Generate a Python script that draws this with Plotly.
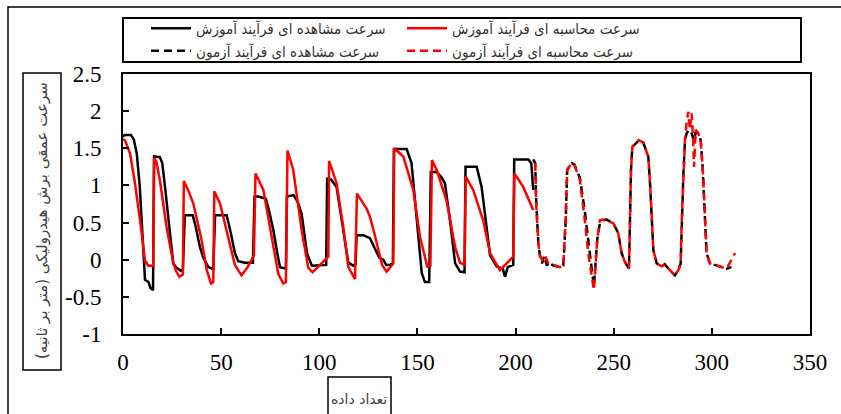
import plotly.graph_objects as go

# ---------------- data ----------------
obs_train_x = [0, 1, 4, 5.5, 7, 8.5, 10, 11.2, 13, 14, 15.3, 15.8, 18.8, 20, 21.4, 23.5, 25.6, 27, 29.5, 30.5,
               31.5, 35.5, 37, 39.2, 41, 43.5, 46, 46.9, 52.8, 55, 57, 58.7, 62, 66.2, 67, 69, 72.8, 74.5, 76.6,
               78.5, 80, 83, 83.5, 86.9, 89, 91, 93.7, 96.2, 100, 103.5, 104, 106, 108.8, 110.5, 112.2, 114.8,
               117.3, 118.5, 119, 122.4, 125.8, 127.5, 129.2, 130.5, 132.6, 134.1, 136, 137.5, 138, 144.5, 147,
               149.6, 152.2, 153.8, 156, 156.8, 159.8, 162, 164, 166.6, 169.2, 171.7, 174, 174.5, 180.2, 182.7,
               185.3, 187, 190.4, 193.5, 194.6, 196, 198.8, 199.3, 206.5, 208, 209]
obs_train_y = [1.66, 1.68, 1.68, 1.62, 1.43, 1.0, 0.3, -0.27, -0.3, -0.38, -0.41, 1.39, 1.38, 1.3, 0.98, 0.45,
               -0.05, -0.1, -0.15, -0.13, 0.6, 0.6, 0.45, 0.17, 0.02, -0.1, -0.13, 0.6, 0.6, 0.35, 0.09, -0.02,
               -0.04, -0.04, 0.85, 0.85, 0.82, 0.65, 0.4, 0.1, -0.1, -0.12, 0.85, 0.87, 0.78, 0.62, 0.09, -0.08,
               -0.07, -0.07, 1.09, 1.08, 0.98, 0.7, 0.4, -0.04, -0.08, -0.06, 0.33, 0.33, 0.29, 0.2, 0.09, 0.03,
               0.0, -0.07, -0.07, -0.05, 1.49, 1.49, 1.3, 0.53, -0.18, -0.3, -0.3, 1.18, 1.18, 1.12, 1.03, 0.53,
               -0.05, -0.16, -0.17, 1.25, 1.25, 0.98, 0.4, 0.06, -0.09, -0.12, -0.23, -0.1, -0.07, 1.35, 1.35,
               1.3, 0.94]

calc_train_x = [0, 1, 3.6, 6, 8.7, 11.2, 12.9, 15.4, 15.9, 17, 18.8, 22.2, 25.6, 27, 28.7, 30.5, 31, 33, 35.8,
                40, 42.6, 44.8, 46, 46.5, 49.4, 53.6, 57, 60.4, 63.5, 66.7, 67.5, 71.5, 75.7, 79.1, 81.6, 83,
                83.8, 86.7, 91, 94.4, 96.6, 101, 104.6, 105, 108.8, 112.2, 114.8, 118.2, 119.2, 124.1, 125.8,
                128.3, 130.5, 132, 134.3, 137.7, 138.2, 142.8, 147.9, 151.3, 155, 156.6, 157.4, 159.8, 164.8,
                169.2, 171.7, 174, 174.6, 178.4, 183.5, 187, 192, 198.8, 199.4, 203.9, 209]
calc_train_y = [1.62, 1.61, 1.43, 1.05, 0.53, -0.01, -0.08, -0.08, 1.37, 1.32, 1.07, 0.44, -0.04, -0.15,
                -0.23, -0.2, 1.06, 0.95, 0.76, 0.27, -0.13, -0.32, -0.3, 0.92, 0.76, 0.31, -0.07, -0.21, -0.1,
                0.06, 1.16, 0.94, 0.31, -0.19, -0.32, -0.3, 1.47, 1.21, 0.4, -0.11, -0.17, -0.06, 0.04, 1.33,
                1.03, 0.44, -0.1, -0.26, 0.89, 0.69, 0.58, 0.33, 0.08, -0.07, -0.16, -0.05, 1.5, 1.39, 0.94,
                0.31, -0.09, -0.08, 1.34, 1.21, 0.8, 0.17, -0.04, -0.07, 1.12, 0.94, 0.53, 0.09, -0.14, 0.04,
                1.16, 0.98, 0.67]

obs_test_x = [209, 210, 210.5, 211.6, 212.5, 213.5, 214.5, 216, 217, 219.2, 222.6, 224.3, 225.5, 226.3, 228.6,
              230, 232.8, 235.3, 237, 238.7, 239.9, 241.6, 243, 244.5, 246.4, 249.8, 252.3, 254, 255.7, 257.8,
              258.3, 258.8, 259.5, 262.6, 265, 267.6, 268.5, 269.3, 270.2, 271.9, 274.4, 276, 277.8, 281.2,
              282.9, 284.1, 284.6, 285.5, 286.3, 287.1, 288.5, 289.7, 290.9, 291.8, 293.1, 294.3, 295.3, 296.5,
              297.3, 299, 301.5, 304.1, 307.5, 310]
obs_test_y = [1.35, 1.3, 0.8, 0.22, 0.04, -0.05, 0.05, -0.08, -0.03, -0.08, -0.1, -0.08, 0.5, 1.21, 1.3, 1.28,
              1.1, 0.65, 0.27, -0.14, -0.36, 0.27, 0.5, 0.53, 0.54, 0.49, 0.36, 0.09, -0.03, -0.12, 0.58, 1.21,
              1.52, 1.6, 1.58, 1.39, 1.03, 0.58, 0.13, -0.05, -0.09, -0.06, -0.12, -0.21, -0.14, -0.05, 0.49,
              1.16, 1.6, 1.7, 1.75, 1.7, 1.6, 1.72, 1.7, 1.61, 1.25, 0.58, 0.09, -0.05, -0.07, -0.09, -0.12, -0.1]

calc_test_x = [210, 210.5, 211.6, 212.5, 213.5, 215, 216.5, 217.5, 219.2, 222.6, 224.3, 225.5, 226.3, 228.6,
               230, 232.8, 235.3, 237, 238.7, 239.9, 241.6, 243, 244.5, 246.4, 249.8, 252.3, 254, 255.7, 257.8,
               258.3, 258.8, 259.5, 262.6, 265, 267.6, 268.5, 269.3, 270.2, 271.9, 274.4, 276, 277.8, 281.2,
               282.9, 284.1, 284.6, 285.5, 286.3, 287.1, 288, 288.8, 289.7, 290.5, 290.9, 291.8, 293.1, 294.3,
               295.3, 296.5, 297.3, 299, 301.5, 304.1, 307.5, 309, 311.8]
calc_test_y = [1.3, 0.76, 0.22, 0.04, 0.0, 0.06, -0.04, -0.06, -0.07, -0.1, -0.08, 0.53, 1.21, 1.3, 1.27, 1.07,
               0.53, 0.09, -0.2, -0.41, 0.27, 0.53, 0.54, 0.53, 0.49, 0.36, 0.09, -0.03, -0.12, 0.58, 1.21, 1.52,
               1.61, 1.58, 1.39, 1.03, 0.58, 0.13, -0.05, -0.09, -0.07, -0.12, -0.21, -0.14, -0.05, 0.49, 1.16,
               1.61, 1.84, 1.99, 1.75, 1.97, 1.61, 1.25, 1.75, 1.7, 1.61, 1.25, 0.58, 0.09, -0.05, -0.07, -0.09,
               -0.12, -0.05, 0.09]

names = ["سرعت مشاهده ای فرآیند آموزش", "سرعت محاسبه ای فرآیند آموزش",
         "سرعت مشاهده ای فرآیند آزمون", "سرعت محاسبه ای فرآیند آزمون"]
y_title = "سرعت عمقی برش هیدرولیکی (متر بر ثانیه)"
x_title = "تعداد داده"
x_ticks = [0, 50, 100, 150, 200, 250, 300, 350]
y_ticks = [-1, -0.5, 0, 0.5, 1, 1.5, 2, 2.5]

# ---------------- figure ----------------
W, H = 841, 414
L, R, T, B = 123, 810, 74, 334


def px(x):
    return (x - L) / (R - L)


def py(y):
    return (B - y) / (B - T)


fig = go.Figure()
fig.add_trace(go.Scatter(x=obs_train_x, y=obs_train_y, mode="lines", name=names[0],
                         line=dict(color="black", width=2.5)))
fig.add_trace(go.Scatter(x=calc_train_x, y=calc_train_y, mode="lines", name=names[1],
                         line=dict(color="#ff0000", width=2.5)))
fig.add_trace(go.Scatter(x=obs_test_x, y=obs_test_y, mode="lines", name=names[2],
                         line=dict(color="black", width=2.5, dash="8px,5px")))
fig.add_trace(go.Scatter(x=calc_test_x, y=calc_test_y, mode="lines", name=names[3],
                         line=dict(color="#ff0000", width=2.5, dash="8px,5px")))

tickfont = dict(family="Liberation Serif", size=23, color="black")
fig.update_xaxes(range=[0, 350], tickvals=x_ticks, ticktext=[str(v) for v in x_ticks],
                 ticks="inside", ticklen=6, tickwidth=1.5, tickcolor="black",
                 showline=True, linewidth=2, linecolor="black", mirror=True,
                 showgrid=False, zeroline=False, tickfont=tickfont, ticklabelstandoff=6)
fig.update_yaxes(range=[-1, 2.5], tickvals=y_ticks, ticktext=[f"{v:g}" for v in y_ticks],
                 ticks="inside", ticklen=6, tickwidth=1.5, tickcolor="black",
                 showline=True, linewidth=2, linecolor="black", mirror=True,
                 showgrid=False, zeroline=False, tickfont=tickfont, ticklabelstandoff=15)

leg_font = dict(family="DejaVu Sans Condensed", size=15, color="#333333")
ytitle_font = dict(family="DejaVu Sans", size=15, color="#404040")
xtitle_font = dict(family="DejaVu Sans", size=14, color="#404040")

shapes = [
    # outer frame
    dict(type="rect", xref="paper", yref="paper", x0=px(8), x1=px(850), y0=py(425), y1=py(7),
         line=dict(color="black", width=1.5)),
    # legend frame
    dict(type="rect", xref="paper", yref="paper", x0=px(123), x1=px(801), y0=py(62), y1=py(18),
         line=dict(color="black", width=2)),
    # y title frame
    dict(type="rect", xref="paper", yref="paper", x0=px(23), x1=px(61), y0=py(370), y1=py(73),
         line=dict(color="black", width=1.5)),
    # x title frame
    dict(type="rect", xref="paper", yref="paper", x0=px(328), x1=px(391), y0=py(425), y1=py(377),
         line=dict(color="black", width=1.5)),
]

annotations = [
    dict(text=y_title, xref="paper", yref="paper", x=px(42), y=py(221), showarrow=False,
         textangle=-90, font=ytitle_font, xanchor="center", yanchor="middle"),
    dict(text=x_title, xref="paper", yref="paper", x=px(359), y=py(399), showarrow=False,
         font=xtitle_font, xanchor="center", yanchor="middle"),
]

fig.update_layout(
    width=W, height=H,
    margin=dict(l=L, r=W - R, t=T, b=H - B, pad=0),
    paper_bgcolor="white", plot_bgcolor="white",
    showlegend=True,
    legend=dict(orientation="h", x=px(146), y=py(12), xanchor="left", yanchor="top",
                entrywidth=201, entrywidthmode="pixels", font=leg_font,
                bgcolor="rgba(0,0,0,0)", borderwidth=0, tracegroupgap=0,
                itemwidth=40, traceorder="normal"),
    shapes=shapes, annotations=annotations,
)

fig.write_html("out.html")
